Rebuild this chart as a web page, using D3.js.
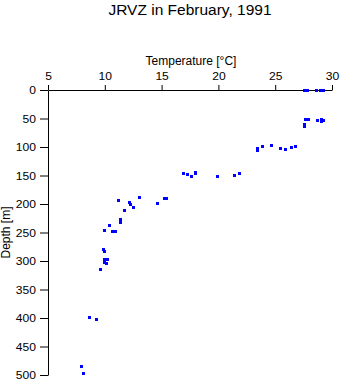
<!DOCTYPE html>
<html>
<head>
<meta charset="utf-8">
<script src="https://cdn.jsdelivr.net/npm/d3@7"></script>
<style>
  html, body { margin: 0; padding: 0; background: #fff; }
  svg { display: block; }
  text { font-family: "Liberation Sans", Arial, Helvetica, sans-serif; fill: #000; }
</style>
</head>
<body>
<svg id="chart" width="341" height="384"></svg>
<script>
const title = "JRVZ in February, 1991";
const xLabel = "Temperature [°C]";
const yLabel = "Depth [m]";
const xTicks = [5, 10, 15, 20, 25, 30];
const yTicks = [0, 50, 100, 150, 200, 250, 300, 350, 400, 450, 500];

const temperature = [
  27.5, 27.8, 28.6, 28.9, 29.2,
  27.6, 27.9, 27.5, 27.5, 28.7, 29.0, 29.0, 29.2,
  23.4, 23.4, 23.8, 24.6, 25.4, 25.9, 26.4, 26.7,
  16.9, 17.2, 17.6, 17.9, 17.9, 19.9, 21.4, 21.8,
  13.0, 15.2, 15.4, 11.2, 12.1, 12.2, 12.5, 14.6, 11.7,
  11.3, 11.3, 10.4, 9.9, 10.6, 10.9,
  9.8, 9.9, 9.9, 10.2, 9.9, 10.1, 9.6,
  8.6, 9.2, 7.9, 8.1
];
const depth = [
  0, 0, 0, 0, 0,
  50, 51, 59, 64, 52, 50, 55, 52,
  101, 106, 98, 97, 102, 103, 100, 98,
  145, 147, 151, 143, 146, 150, 149, 146,
  187, 190, 190, 193, 197, 200, 205, 198, 210,
  227, 232, 236, 245, 247, 248,
  279, 283, 297, 297, 302, 303, 314,
  398, 401, 485, 497
];

const svg = d3.select("#chart");
svg.append("rect").attr("width", 341).attr("height", 384).attr("fill", "#fff");

const x = d3.scaleLinear().domain([5, 30]).range([48, 332]);
const y = d3.scaleLinear().domain([0, 500]).range([90, 375]);

function stretchText(sel, sx) {
  sel.each(function() {
    const t = d3.select(this);
    const xv = +t.attr("x") || 0;
    t.attr("x", xv / sx).attr("transform", `scale(${sx},1)`);
  });
}

// top axis
const xAxis = svg.append("g")
  .attr("transform", `translate(0,${y(0)})`)
  .call(d3.axisTop(x).tickValues(xTicks).tickSize(5).tickSizeOuter(0).tickPadding(5).tickFormat(d3.format("d")));
xAxis.selectAll("text").attr("font-size", 11).attr("font-family", null);
xAxis.selectAll("text").call(stretchText, 1.1);

// left axis
const yAxis = svg.append("g")
  .attr("transform", `translate(${x(5)},0)`)
  .call(d3.axisLeft(y).tickValues(yTicks).tickSize(8).tickSizeOuter(0).tickPadding(4).tickFormat(d3.format("d")));
yAxis.selectAll("text").attr("font-size", 11).attr("font-family", null);
yAxis.selectAll("text").call(stretchText, 1.1);

svg.selectAll("g .domain, g .tick line").attr("stroke", "#000").attr("stroke-width", 1);

// title
svg.append("text")
  .attr("x", 190).attr("y", 15)
  .attr("text-anchor", "middle")
  .attr("font-size", 15.5)
  .text(title);

// x label
svg.append("text")
  .attr("x", 191).attr("y", 65)
  .attr("text-anchor", "middle")
  .attr("font-size", 12)
  .text(xLabel);

// y label
svg.append("text")
  .attr("transform", `translate(10,${(y(0) + y(500)) / 2}) rotate(-90)`)
  .attr("text-anchor", "middle")
  .attr("font-size", 12)
  .text(yLabel);

// points
const pts = temperature.map((t, i) => ({ t, d: depth[i] }));
svg.append("g")
  .selectAll("rect")
  .data(pts)
  .join("rect")
  .attr("x", d => Math.round(x(d.t)) - 1.5)
  .attr("y", d => Math.round(y(d.d)) - 1.5)
  .attr("width", 3)
  .attr("height", 3)
  .attr("fill", "#0000ff")
  .attr("shape-rendering", "crispEdges");
</script>
</body>
</html>
